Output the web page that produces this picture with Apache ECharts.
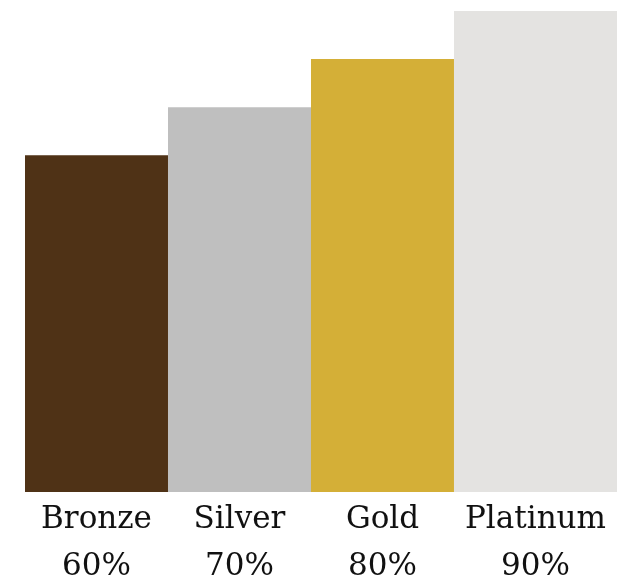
<!DOCTYPE html>
<html>
<head>
<meta charset="utf-8">
<script src="https://cdn.jsdelivr.net/npm/echarts@6/dist/echarts.min.js"></script>
<style>
  html, body { margin: 0; padding: 0; background: #fff; }
  #chart { width: 621px; height: 581px; }
</style>
</head>
<body>
<div id="chart"></div>
<script>
// data
const categories = ['Bronze', 'Silver', 'Gold', 'Platinum'];
const percents = [60, 70, 80, 90];

// layout: relative bar widths (the last bar is a bit wider in the original)
const relWidths = [1, 1, 1, 1.14];
const colors = ['#4f3216', '#bfbfbf', '#d4af37', '#e4e3e1'];
const yMin = -10;

// build [start, end, value] rows
let acc = 0;
const rows = categories.map(function (c, i) {
    const row = [acc, acc + relWidths[i], percents[i]];
    acc += relWidths[i];
    return row;
});

const myChart = echarts.init(document.getElementById('chart'));
myChart.setOption({
    animation: false,
    grid: { left: 25, right: 4, top: 11, bottom: 89 },
    xAxis: { type: 'value', min: 0, max: acc, show: false },
    yAxis: { type: 'value', min: yMin, max: 90, show: false },
    series: [{
        type: 'custom',
        clip: false,
        data: rows,
        renderItem: function (params, api) {
            const i = params.dataIndex;
            const p0 = api.coord([api.value(0), api.value(2)]);
            const p1 = api.coord([api.value(1), yMin]);
            return {
                type: 'group',
                children: [{
                    type: 'rect',
                    shape: { x: p0[0], y: p0[1], width: p1[0] - p0[0], height: p1[1] - p0[1] },
                    style: { fill: colors[i] }
                }, {
                    type: 'text',
                    x: (p0[0] + p1[0]) / 2,
                    y: p1[1] + 4,
                    style: {
                        text: categories[i] + '\n' + percents[i] + '%',
                        fill: '#111',
                        font: '31px "DejaVu Serif"',
                        lineHeight: 47,
                        align: 'center',
                        verticalAlign: 'top'
                    }
                }]
            };
        }
    }]
});
</script>
</body>
</html>
